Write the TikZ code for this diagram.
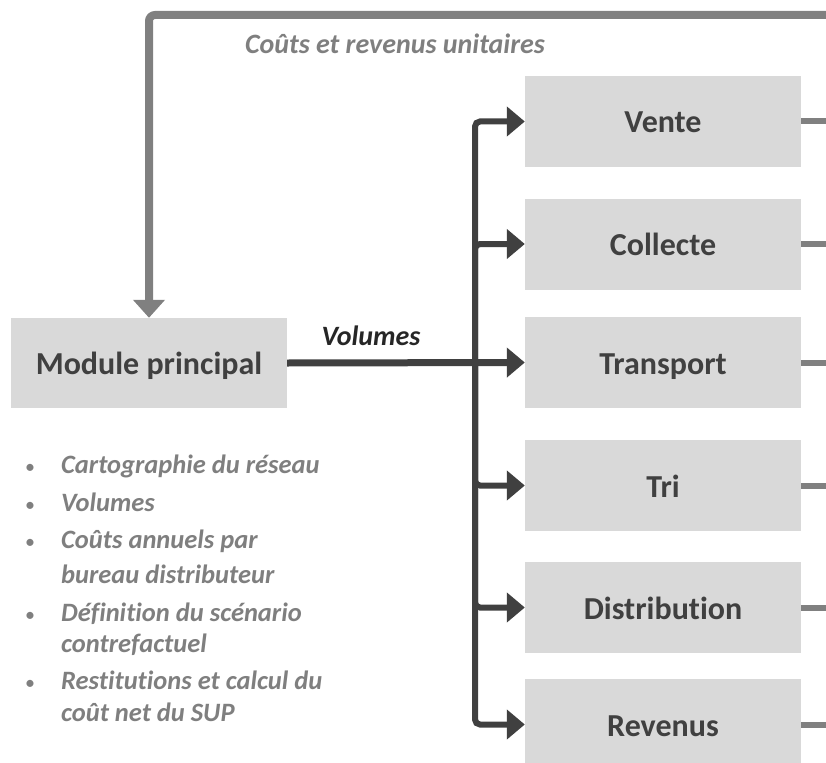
\documentclass[tikz,border=0pt]{standalone}
\usepackage{fontspec}
\setmainfont{Carlito}[RawFeature=-liga]
\usetikzlibrary{arrows.meta}
\definecolor{boxfill}{HTML}{D9D9D9}
\definecolor{darkline}{HTML}{404040}
\definecolor{greyline}{HTML}{808080}
\definecolor{greytext}{HTML}{7F7F7F}
\definecolor{labeltext}{HTML}{262626}

\begin{document}
\begin{tikzpicture}[x=1pt,y=-1pt,
  stage/.style={fill=boxfill, minimum width=276pt, minimum height=91pt,
    inner sep=0pt, text=darkline, text height=23pt, text depth=0pt,
    font=\fontsize{32}{38}\selectfont\bfseries},
  flow/.style={draw=darkline, line width=6pt, rounded corners=5pt,
    -{Triangle[length=18pt,width=29pt]}},
  feedback/.style={draw=greyline, line width=8pt, rounded corners=6pt,
    -{Triangle[length=18pt,width=31pt]}},
  stub/.style={draw=greyline, line width=6pt},
  note/.style={inner sep=0pt, text=greytext,
    font=\fontsize{26.5}{32}\selectfont\bfseries\itshape},
  bulletmark/.style={inner sep=0pt, anchor=base, text=greytext,
    font=\fontsize{20}{24}\selectfont},
  notetext/.style={note, anchor=base west}
]
\useasboundingbox (0,0) rectangle (826,762);
\clip (0,0) rectangle (826,762);

% main module and the six cost stages
\node[stage, minimum height=90pt] (main) at (149,363) {Module principal};
\node[stage] (vente)  at (663,121.5) {Vente};
\node[stage] (coll)   at (663,244)   {Collecte};
\node[stage] (transp) at (663,362.5) {Transport};
\node[stage] (tri)    at (663,485.5) {Tri};
\node[stage] (distr)  at (663,607.5) {Distribution};
\node[stage] (rev)    at (663,724.5) {Revenus};

% feedback of unit costs and revenues into the main module
\coordinate (fbin) at (826,15);
\draw[feedback] (fbin) -| (main.north);
\node[note, anchor=base, font=\fontsize{28}{33}\selectfont\bfseries\itshape]
  (unitlbl) at (395,54) {Coûts et revenus unitaires};

% volumes dispatched to every stage
\coordinate (bus) at (475,362.5);
\draw[flow, line width=7pt] (main.east) -- (transp.west);
\node[inner sep=0pt, anchor=base, text=labeltext,
  font=\fontsize{28}{33}\selectfont\bfseries\itshape] (vollbl) at (371,345) {Volumes};
\foreach \s in {vente,coll,tri,distr,rev}
  \draw[flow] (bus) |- (\s.west);

% outputs leaving each stage
\foreach \s/\y in {vente/121.5,coll/244,transp/362.5,tri/485.5,distr/607.5,rev/724.5}{
  \coordinate (\s out) at (826,\y);
  \draw[stub] (\s.east) -- (\s out);
}

% contents of the main module
\node[bulletmark] (b1) at (30,473.5) {•};
\node[notetext] (l1) at (61,473.5) {Cartographie du réseau};
\node[bulletmark] (b2) at (30,511.5) {•};
\node[notetext] (l2) at (61,511.5) {Volumes};
\node[bulletmark] (b3) at (30,548.5) {•};
\node[notetext] (l3a) at (61,548.5) {Coûts annuels par};
\node[notetext] (l3b) at (61,583) {bureau distributeur};
\node[bulletmark] (b4) at (30,621.5) {•};
\node[notetext] (l4a) at (61,621.5) {Définition du scénario};
\node[notetext] (l4b) at (61,652.5) {contrefactuel};
\node[bulletmark] (b5) at (30,689.5) {•};
\node[notetext] (l5a) at (61,689.5) {Restitutions et calcul du};
\node[notetext] (l5b) at (61,721.5) {coût net du SUP};
\end{tikzpicture}
\end{document}
